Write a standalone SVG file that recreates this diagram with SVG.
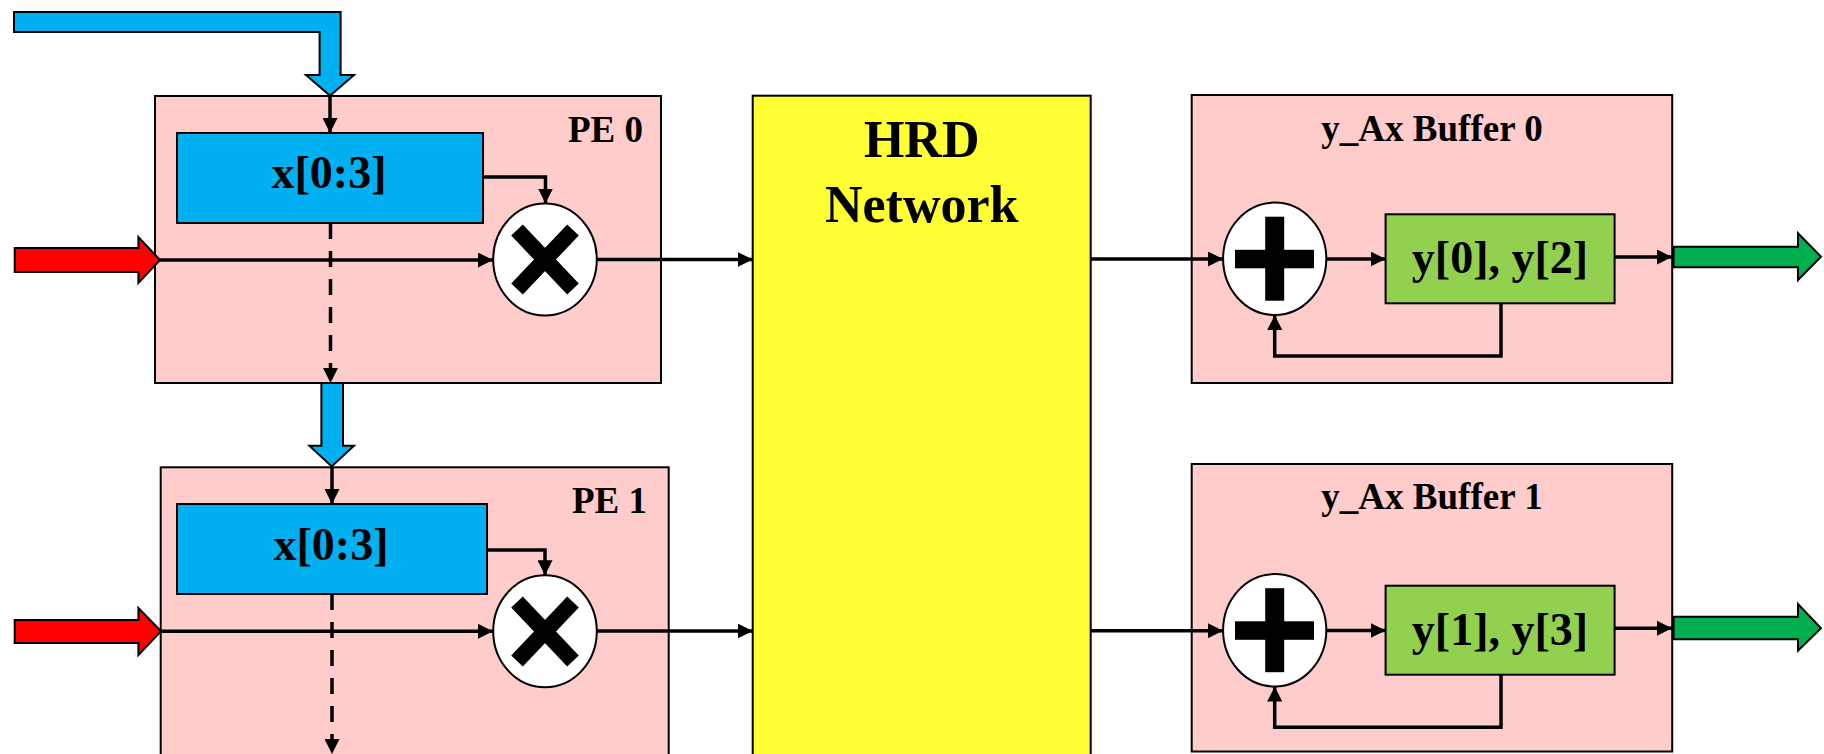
<svg xmlns="http://www.w3.org/2000/svg" width="1824" height="754" viewBox="0 0 1824 754">
  <defs>
    <style>
      .pe { fill: #FFCCCC; stroke: #000; stroke-width: 2; }
      .reg { fill: #00B0F0; stroke: #000; stroke-width: 2; }
      .acc { fill: #92D050; stroke: #000; stroke-width: 2; }
      .net { fill: #FFFF33; stroke: #000; stroke-width: 2; }
      .op { fill: #FFFFFF; stroke: #000; stroke-width: 2; }
      .wire { fill: none; stroke: #000; stroke-width: 3.5; marker-end: url(#head); }
      .dash { stroke-dasharray: 16 12; }
      .bus { stroke: #000; stroke-width: 2; }
      .t { font-family: "Liberation Serif", "Times New Roman", serif; font-weight: bold; fill: #000; }
      .title { font-size: 37px; }
      .val { font-size: 46px; text-anchor: middle; }
      .big { font-size: 52px; text-anchor: middle; }
      .mul line { stroke: #000; stroke-width: 16; }
    </style>
    <marker id="head" viewBox="0 0 15 15" refX="15" refY="7.5" markerWidth="15" markerHeight="15" markerUnits="userSpaceOnUse" orient="auto">
      <path d="M0,0 L15,7.5 L0,15 z" fill="#000"/>
    </marker>
  </defs>

  <!-- bus arrows feeding the x registers -->
  <g id="x-bus-in">
    <polygon class="reg" points="14,12 340.6,12 340.6,75 354,75 330,95.7 306,75 319.6,75 319.6,32 14,32"/>
  </g>
  <g id="x-bus-pass">
    <polygon class="reg" points="321.4,383 343,383 343,445.7 354,445.7 331.7,466.5 309.4,445.7 321.4,445.7"/>
  </g>

  <!-- processing element 0 -->
  <g id="pe0">
    <rect class="pe" x="155" y="96" width="506" height="287"/>
    <text class="t title" x="643" y="142" text-anchor="end">PE 0</text>
    <rect class="reg" x="177" y="133" width="306" height="90"/>
    <text class="t val" x="329" y="188">x[0:3]</text>
    <g class="mul">
      <ellipse class="op" cx="545" cy="259.5" rx="51.8" ry="56"/>
      <line x1="517" y1="230" x2="573" y2="289"/>
      <line x1="573" y1="230" x2="517" y2="289"/>
    </g>
  </g>

  <!-- processing element 1 -->
  <g id="pe1">
    <rect class="pe" x="160.7" y="467.3" width="508" height="300"/>
    <text class="t title" x="647" y="513" text-anchor="end">PE 1</text>
    <rect class="reg" x="177" y="504" width="310" height="90"/>
    <text class="t val" x="331" y="560">x[0:3]</text>
    <g class="mul">
      <ellipse class="op" cx="545" cy="631.3" rx="51.8" ry="56"/>
      <line x1="517" y1="602" x2="573" y2="661"/>
      <line x1="573" y1="602" x2="517" y2="661"/>
    </g>
  </g>

  <!-- interconnect -->
  <g id="hrd">
    <rect class="net" x="752.7" y="95.7" width="338" height="680"/>
    <text class="t big" x="921.7" y="157">HRD</text>
    <text class="t big" x="921.7" y="222">Network</text>
  </g>

  <!-- accumulation buffer 0 -->
  <g id="buf0">
    <rect class="pe" x="1191.7" y="95" width="480.5" height="288"/>
    <text class="t title" x="1432" y="141" text-anchor="middle">y_Ax Buffer 0</text>
    <ellipse class="op" cx="1274.7" cy="258.8" rx="51.6" ry="56.2"/>
    <rect x="1235" y="249.8" width="79" height="18.5" fill="#000"/>
    <rect x="1265.2" y="216.7" width="19" height="84" fill="#000"/>
    <rect class="acc" x="1385.6" y="214.3" width="229" height="89"/>
    <text class="t val" x="1500" y="273">y[0], y[2]</text>
  </g>

  <!-- accumulation buffer 1 -->
  <g id="buf1">
    <rect class="pe" x="1191.7" y="464" width="480.5" height="287.5"/>
    <text class="t title" x="1432" y="509" text-anchor="middle">y_Ax Buffer 1</text>
    <ellipse class="op" cx="1274.7" cy="630.3" rx="51.6" ry="56.2"/>
    <rect x="1235" y="621.3" width="79" height="18.5" fill="#000"/>
    <rect x="1265.2" y="588.2" width="19" height="84" fill="#000"/>
    <rect class="acc" x="1385.6" y="585.7" width="229" height="89"/>
    <text class="t val" x="1500" y="645">y[1], y[3]</text>
  </g>

  <!-- external inputs and outputs -->
  <g id="a-in0"><polygon class="bus" fill="#FF0000" points="14.7,248 138.4,248 138.4,237 160,260 138.4,283 138.4,272 14.7,272"/></g>
  <g id="a-in1"><polygon class="bus" fill="#FF0000" points="14.7,620 138.4,620 138.4,608 161,631.3 138.4,655 138.4,643 14.7,643"/></g>
  <g id="y-out0"><polygon class="bus" fill="#00B050" points="1673.6,246.7 1798,246.7 1798,233.3 1821,256.7 1798,280 1798,267.3 1673.6,267.3"/></g>
  <g id="y-out1"><polygon class="bus" fill="#00B050" points="1673.6,616.7 1798,616.7 1798,604 1821,628.3 1798,650.7 1798,639.3 1673.6,639.3"/></g>

  <!-- connectors -->
  <g id="connectors">
    <path class="wire" d="M330,96 V133"/>
    <path class="wire" d="M483,177 H545.5 V203.5"/>
    <path class="wire" d="M160,260 H493"/>
    <path class="wire dash" d="M330.5,223 V383"/>
    <path class="wire" d="M597,259.5 H752.7"/>

    <path class="wire" d="M332,467 V504"/>
    <path class="wire" d="M487,550 H545 V575.3"/>
    <path class="wire" d="M161,631.3 H493"/>
    <path class="wire dash" d="M332,594 V754"/>
    <path class="wire" d="M597,631 H752.7"/>

    <path class="wire" d="M1091,259 H1223"/>
    <path class="wire" d="M1326.3,259 H1385.6"/>
    <path class="wire" d="M1614.7,257 H1672"/>
    <path class="wire" d="M1501,303.3 V356 H1274.7 V315"/>

    <path class="wire" d="M1091,630.7 H1223"/>
    <path class="wire" d="M1326.3,630.5 H1385.6"/>
    <path class="wire" d="M1614.7,628.3 H1672"/>
    <path class="wire" d="M1501,674.7 V727.3 H1274.7 V686.5"/>
  </g>
</svg>
